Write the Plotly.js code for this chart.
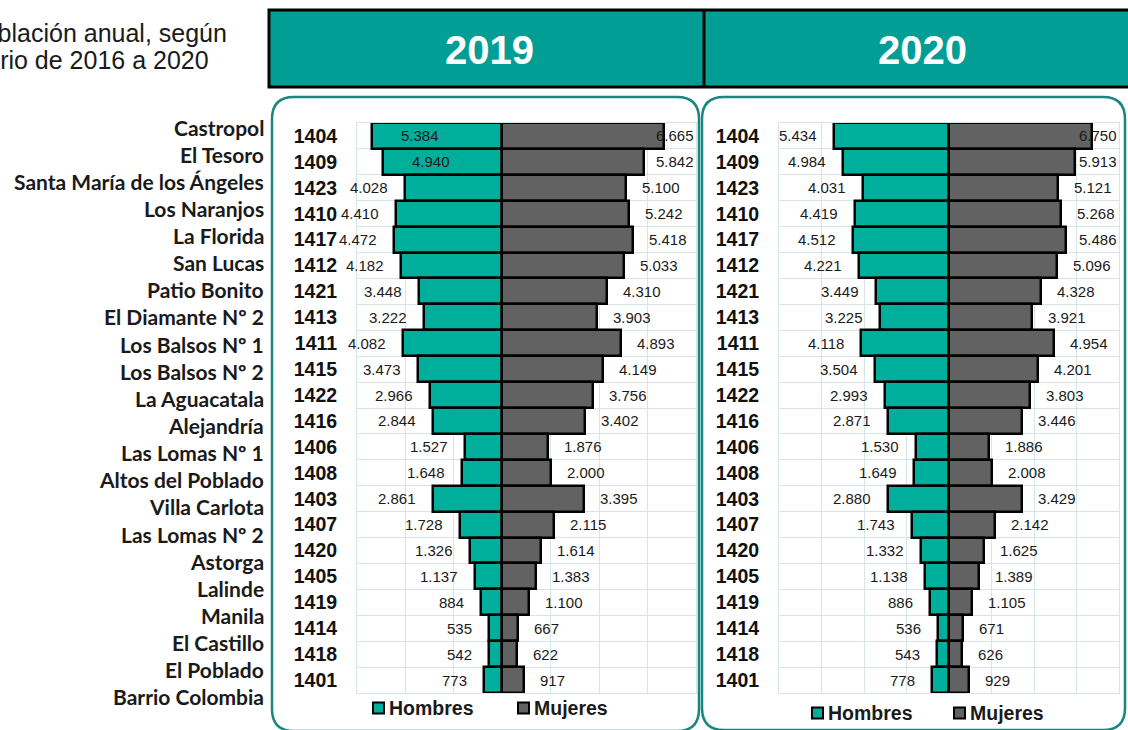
<!DOCTYPE html>
<html><head><meta charset="utf-8">
<script src="https://cdn.plot.ly/plotly-3.0.1.min.js"></script>
<style>html,body{margin:0;padding:0;background:#fff}#chart{width:1128px;height:730px}</style>
</head><body><div id="chart"></div>
<script>
// ---------- DATA ----------
const codes = ["1404","1409","1423","1410","1417","1412","1421","1413","1411","1415","1422","1416","1406","1408","1403","1407","1420","1405","1419","1414","1418","1401"];
const barrios = ["Castropol","El Tesoro","Santa María de los Ángeles","Los Naranjos","La Florida","San Lucas","Patio Bonito","El Diamante Nº 2","Los Balsos Nº 1","Los Balsos Nº 2","La Aguacatala","Alejandría","Las Lomas Nº 1","Altos del Poblado","Villa Carlota","Las Lomas Nº 2","Astorga","Lalinde","Manila","El Castillo","El Poblado","Barrio Colombia"];
const years = ["2019","2020"];
const hombres2019 = [5384,4940,4028,4410,4472,4182,3448,3222,4082,3473,2966,2844,1527,1648,2861,1728,1326,1137,884,535,542,773];
const mujeres2019 = [6665,5842,5100,5242,5418,5033,4310,3903,4893,4149,3756,3402,1876,2000,3395,2115,1614,1383,1100,667,622,917];
const hombres2020 = [5434,4984,4031,4419,4512,4221,3449,3225,4118,3504,2993,2871,1530,1649,2880,1743,1332,1138,886,536,543,778];
const mujeres2020 = [6750,5913,5121,5268,5486,5096,4328,3921,4954,4201,3803,3446,1886,2008,3429,2142,1625,1389,1105,671,626,929];
const titleLines = ["Población anual, según","barrio de 2016 a 2020"];
const seriesNames = ["Hombres","Mujeres"];

// ---------- STYLE / LAYOUT ----------
const W = 1128, H = 730;
const C_MEN = "#00ae9c", C_WOM = "#626262", C_GRID = "#d6e6e6", C_FRAME = "#17877f", C_HEAD = "#009e95";
const ARIAL = "Liberation Sans, Arial, sans-serif";
const px = x => x / W, py = y => 1 - y / H;
const plotTop = 123, plotBot = 693;
const panels = [
  {xa:"x", ya:"y", left:357, right:696, min:-6000, max:8000, men:hombres2019, wom:mujeres2019, insideLimit:335},
  {xa:"x2", ya:"y2", left:779, right:1119, min:-8000, max:8000, men:hombres2020, wom:mujeres2020, insideLimit:-1e9}
];
const fmt = v => String(v).replace(/\B(?=(\d{3})+(?!\d))/g, ".");
const LBL = 15;
const lw = s => { let w = 0; for (const ch of s) w += (ch === "." ? 0.278 : 0.556) * LBL; return w; };

const traces = [];
const annotations = [];
const shapes = [];

panels.forEach((p, pi) => {
  traces.push({type:"bar", orientation:"h", y:codes, x:p.men.map(v => -v), xaxis:p.xa, yaxis:p.ya,
    name:seriesNames[0], showlegend:false, marker:{color:C_MEN, line:{color:"#000", width:2.5}},
    customdata:p.men, hovertemplate:"%{y}: %{customdata}<extra>"+seriesNames[0]+" "+years[pi]+"</extra>"});
  traces.push({type:"bar", orientation:"h", y:codes, x:p.wom, xaxis:p.xa, yaxis:p.ya,
    name:seriesNames[1], showlegend:false, marker:{color:C_WOM, line:{color:"#000", width:2.5}},
    hovertemplate:"%{y}: %{x}<extra>"+seriesNames[1]+" "+years[pi]+"</extra>"});
  const k = (p.right - p.left) / (p.max - p.min);
  const toPx = v => p.left + (v - p.min) * k;
  codes.forEach((c, i) => {
    const m = p.men[i], ms = fmt(m), mEnd = toPx(-m);
    const base = {xref:p.xa, yref:p.ya, y:i, showarrow:false, yanchor:"middle",
      font:{family:ARIAL, size:LBL, color:"#1a1a1a"}, borderpad:0};
    if (mEnd - 16 - lw(ms) < p.insideLimit) {
      annotations.push(Object.assign({}, base, {x:-m, text:ms, xanchor:"left", xshift:28}));
    } else {
      annotations.push(Object.assign({}, base, {x:-m, text:ms, xanchor:"right", xshift:-16}));
    }
    const f = p.wom[i], fs = fmt(f), fEnd = toPx(f);
    if (fEnd + 15 + lw(fs) > p.right - 1) {
      annotations.push(Object.assign({}, base, {x:p.max, text:fs, xanchor:"right", xshift:-1}));
    } else {
      annotations.push(Object.assign({}, base, {x:f, text:fs, xanchor:"left", xshift:15}));
    }
  });
});

// title lines (clipped at left like the source)
annotations.push({xref:"paper", yref:"paper", x:px(229), y:py(33), xanchor:"right", yanchor:"middle", showarrow:false,
  text:titleLines[0], font:{family:ARIAL, size:25, color:"#1a1a1a"}});
annotations.push({xref:"paper", yref:"paper", x:px(211), y:py(60), xanchor:"right", yanchor:"middle", showarrow:false,
  text:titleLines[1], font:{family:ARIAL, size:25, color:"#1a1a1a"}});

// header
shapes.push({type:"rect", xref:"paper", yref:"paper", x0:px(269), x1:px(1140), y0:py(10), y1:py(87),
  fillcolor:C_HEAD, line:{color:"#000", width:3}});
shapes.push({type:"line", xref:"paper", yref:"paper", x0:px(704), x1:px(704), y0:py(10), y1:py(87), line:{color:"#000", width:3}});
[489, 922].forEach((cx, i) => annotations.push({xref:"paper", yref:"paper", x:px(cx), y:py(50), xanchor:"center", yanchor:"middle",
  showarrow:false, text:"<b>"+years[i]+"</b>", font:{family:ARIAL, size:40, color:"#fff"}}));

// frames
function frame(x0, x1, y0, y1, r) {
  const P = (x, y) => px(x) + "," + py(y);
  return "M" + P(x0, y0 + r) + " Q" + P(x0, y0) + " " + P(x0 + r, y0) + " L" + P(x1 - r, y0) + " Q" + P(x1, y0) + " " + P(x1, y0 + r) +
    " L" + P(x1, y1 - r) + " Q" + P(x1, y1) + " " + P(x1 - r, y1) + " L" + P(x0 + r, y1) + " Q" + P(x0, y1) + " " + P(x0, y1 - r) + " Z";
}
shapes.push({type:"path", xref:"paper", yref:"paper", path:frame(272, 699, 97, 731, 22), line:{color:C_FRAME, width:2.5}, layer:"below"});
shapes.push({type:"path", xref:"paper", yref:"paper", path:frame(702, 1125, 97, 730, 22), line:{color:C_FRAME, width:2.5}, layer:"below"});

// neighbourhood names
barrios.forEach((b, i) => annotations.push({xref:"paper", yref:"paper", x:px(266), y:py(127 + i * 27.14), xanchor:"right", yanchor:"middle",
  showarrow:false, text:"<b>"+b+"</b>", font:{family:"Lato, Carlito, sans-serif", size:21, color:"#1a1a1a"}}));

// legends
const legendPos = [
  {y:708, items:[{sx:373, tx:387, c:C_MEN}, {sx:518, tx:532, c:C_WOM}]},
  {y:713, items:[{sx:812, tx:826, c:C_MEN}, {sx:954, tx:968, c:C_WOM}]}
];
legendPos.forEach(L => L.items.forEach((it, j) => {
  shapes.push({type:"rect", xref:"paper", yref:"paper", x0:px(it.sx), x1:px(it.sx + 11), y0:py(L.y - 5.5), y1:py(L.y + 5.5),
    fillcolor:it.c, line:{color:"#000", width:2}});
  annotations.push({xref:"paper", yref:"paper", x:px(it.tx), y:py(L.y), xanchor:"left", yanchor:"middle", showarrow:false,
    text:"<b>"+seriesNames[j]+"</b>", font:{family:ARIAL, size:19.5, color:"#1a1a1a"}});
}));

function xaxisDef(p) {
  return {domain:[px(p.left), px(p.right)], range:[p.min, p.max], dtick:2000, tick0:0, showticklabels:false,
    showgrid:true, gridcolor:C_GRID, gridwidth:1, zeroline:false, showline:true, mirror:true, linecolor:C_GRID, linewidth:1,
    ticks:"", fixedrange:true, anchor:p.ya};
}
function yaxisDef(p) {
  return {domain:[py(plotBot), py(plotTop)], type:"category", categoryorder:"array", categoryarray:codes, autorange:"reversed",
    tickson:"boundaries", showgrid:true, gridcolor:C_GRID, gridwidth:1, showline:true, mirror:true, linecolor:C_GRID, linewidth:1,
    ticks:"", ticklabelstandoff:15, tickfont:{family:ARIAL, size:19.5, color:"#111", weight:"bold"}, fixedrange:true, anchor:p.xa};
}

const layout = {
  width:W, height:H, margin:{l:0, r:0, t:0, b:0}, paper_bgcolor:"#fff", plot_bgcolor:"#fff",
  barmode:"relative", bargap:0, showlegend:false,
  xaxis:xaxisDef(panels[0]), yaxis:yaxisDef(panels[0]),
  xaxis2:xaxisDef(panels[1]), yaxis2:yaxisDef(panels[1]),
  shapes, annotations
};
Plotly.newPlot("chart", traces, layout, {displayModeBar:false});
</script></body></html>
